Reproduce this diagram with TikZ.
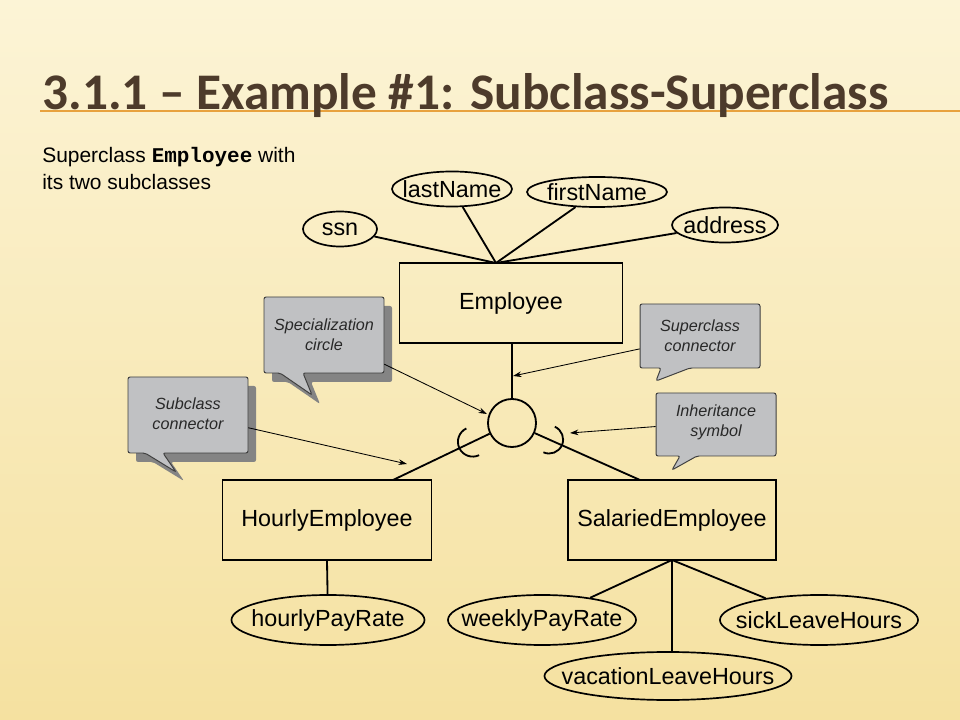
\documentclass[tikz,border=0pt]{standalone}
\usepackage{fontspec}
\setmainfont{Liberation Sans}
\setmonofont{Liberation Mono}
\newfontfamily\titlefont{Carlito}
\usetikzlibrary{shapes.geometric,arrows.meta,calc}

\definecolor{bgtop}{RGB}{252,244,214}
\definecolor{bgbottom}{RGB}{245,225,160}
\definecolor{titlebrown}{RGB}{77,59,43}
\definecolor{ruleorange}{RGB}{232,162,62}
\definecolor{notegrey}{RGB}{192,193,195}
\definecolor{noteshadow}{RGB}{132,132,132}
\definecolor{notetext}{RGB}{40,40,40}

\newcommand\attrtext[1]{\makebox[0pt]{#1}}

\tikzset{
  entity/.style={draw, line width=1.3pt, minimum height=2cm, inner sep=0pt,
    font=\fontsize{16.6}{20}\selectfont},
  attr/.style={ellipse, draw, line width=1.2pt, inner sep=0pt,
    font=\fontsize{16.6}{20}\selectfont},
  link/.style={line width=1.3pt},
  notebox/.style={fill=notegrey, draw=black!75, line width=0.7pt, rounded corners=1.5pt},
  noteshade/.style={fill=noteshadow, rounded corners=1.5pt},
  notelabel/.style={align=center, inner sep=0pt, text=notetext,
    font=\fontsize{11.5}{14}\selectfont\itshape},
  pointer/.style={-{Stealth[length=6pt,width=4pt]}, line width=0.6pt}
}

\begin{document}
\begin{tikzpicture}[x=0.025cm, y=-0.025cm]
  \useasboundingbox (0,0) rectangle (960,720);
  \shade[top color=bgtop, bottom color=bgbottom] (0,0) rectangle (960,720);

  \draw[ruleorange, line width=1.2pt] (40,111) -- (960,111);
  \node[anchor=base west, inner sep=0pt, text=titlebrown,
    font=\titlefont\bfseries\fontsize{36.5}{40}\selectfont] (title) at (42,110)
    {3.1.1 – Example \#1: Subclass-Superclass};
  \node[anchor=base west, inner sep=0pt, font=\fontsize{14.9}{18}\selectfont] (sub1) at (42,163)
    {Superclass \texttt{\textbf{Employee}} with};
  \node[anchor=base west, inner sep=0pt, font=\fontsize{14.9}{18}\selectfont] (sub2) at (42,190)
    {its two subclasses};

  % entities
  \node[entity, minimum width=5.575cm] (emp) at (511,303) {Employee};
  \node[entity, minimum width=5.225cm] (hourly) at (327,520) {HourlyEmployee};
  \node[entity, minimum width=5.2cm] (salaried) at (672,520) {SalariedEmployee};
  \node[circle, draw, line width=1.3pt, minimum size=1.2cm, inner sep=0pt] (circ) at (512,423) {};

  % attributes
  \node[attr, minimum width=1.85cm, minimum height=0.875cm] (ssn) at (340,229) {\attrtext{ssn}};
  \node[attr, minimum width=3cm, minimum height=0.875cm] (lname) at (452,189) {\attrtext{lastName}};
  \node[attr, minimum width=3.5cm, minimum height=0.75cm] (fname) at (597,192) {\attrtext{firstName}};
  \node[attr, minimum width=2.65cm, minimum height=0.875cm] (addr) at (725,225) {\attrtext{address}};
  \node[attr, minimum width=4.825cm, minimum height=1.25cm] (hrate) at (328,620) {\attrtext{hourlyPayRate}};
  \node[attr, minimum width=4.7cm, minimum height=1.25cm] (wrate) at (542,620) {\attrtext{weeklyPayRate}};
  \node[attr, minimum width=4.95cm, minimum height=1.25cm] (sick) at (819,620) {\attrtext{sickLeaveHours}};
  \node[attr, minimum width=6.175cm, minimum height=1.2cm] (vac) at (668,676) {\attrtext{vacationLeaveHours}};

  \coordinate (empTop) at (496,263);
  \coordinate (salBot) at (672,560);
  \coordinate (hourlyTop) at (393,480);
  \coordinate (salTop) at (640,480);

  \draw[link] (ssn) -- (empTop);
  \draw[link] (lname) -- (empTop);
  \draw[link] (fname) -- (empTop);
  \draw[link] (addr) -- (empTop);
  \draw[link] (hourly.south) -- (hrate);
  \draw[link] (salBot) -- (wrate);
  \draw[link] (salBot) -- (sick);
  \draw[link] (salBot) -- (vac.north -| salBot);
  \draw[link] (emp.south -| circ) -- (circ);
  \draw[link] (circ) -- (hourlyTop);
  \draw[link] (circ) -- (salTop);

  % inheritance symbols
  \draw[link] ($(circ)!0.33!(hourlyTop)+(115.6:0.37cm)$) arc[start angle=115.6, end angle=295.6, radius=0.37cm];
  \draw[link] ($(circ)!0.29!(salTop)+(246:0.35cm)$) arc[start angle=246, end angle=426, radius=0.35cm];

  % callouts
  \fill[noteshade, shift={(8,9)}] (264,297) -- (384,297) -- (384,373) -- (303,373) -- (312,395) -- (280,373) -- (264,373) -- cycle;
  \draw[notebox] (264,297) -- (384,297) -- (384,373) -- (303,373) -- (312,395) -- (280,373) -- (264,373) -- cycle;
  \fill[noteshade, shift={(8,9)}] (128,377) -- (248,377) -- (248,453) -- (163,453) -- (176,472) -- (145,453) -- (128,453) -- cycle;
  \draw[notebox] (128,377) -- (248,377) -- (248,453) -- (163,453) -- (176,472) -- (145,453) -- (128,453) -- cycle;
  \draw[notebox] (640,304) -- (760,304) -- (760,368) -- (690,368) -- (656,381) -- (661,368) -- (640,368) -- cycle;
  \draw[notebox] (656,393) -- (776,393) -- (776,456) -- (697,456) -- (672,470) -- (680,456) -- (656,456) -- cycle;

  \node[notelabel, minimum width=3cm, minimum height=1.9cm] (specNote) at (324,335) {Specialization\\circle};
  \node[notelabel, minimum width=3cm, minimum height=1.9cm] (subNote) at (188,414) {Subclass\\connector};
  \node[notelabel, minimum width=3cm, minimum height=1.6cm] (superNote) at (700,336) {Superclass\\connector};
  \node[notelabel, minimum width=3cm, minimum height=1.575cm] (inhNote) at (716,422) {Inheritance\\symbol};

  \coordinate (specTgt) at (487,414);
  \coordinate (subTgt) at (407,464);
  \coordinate (superTgt) at (513,376);
  \coordinate (inhTgt) at (570,433);

  \draw[pointer] (specNote) -- (specTgt);
  \draw[pointer] (subNote) -- (subTgt);
  \draw[pointer] (superNote) -- (superTgt);
  \draw[pointer] (inhNote) -- (inhTgt);
\end{tikzpicture}
\end{document}
